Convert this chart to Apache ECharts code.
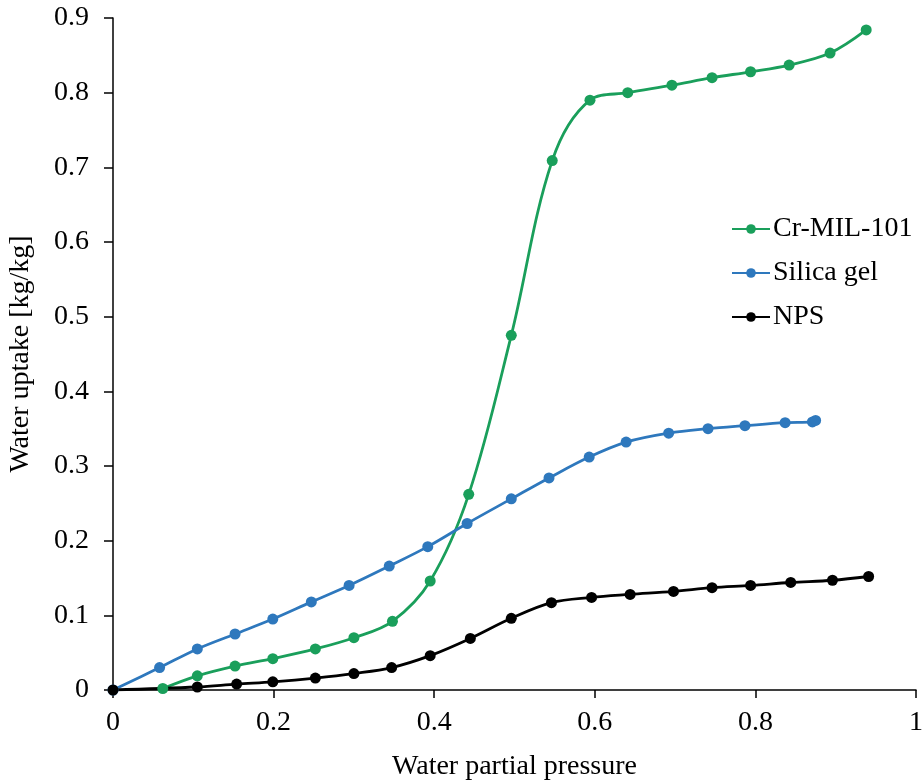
<!DOCTYPE html>
<html>
<head>
<meta charset="utf-8">
<script src="https://cdn.jsdelivr.net/npm/echarts@6/dist/echarts.min.js"></script>
<style>html,body{margin:0;padding:0;background:#fff}#c{width:923px;height:784px}</style>
</head>
<body>
<div id="c"></div>
<script>
var seriesNames = ['Cr-MIL-101', 'Silica gel', 'NPS'];
var crMil101 = [
  [0.062, 0.002], [0.105, 0.019], [0.152, 0.032], [0.199, 0.042], [0.252, 0.055],
  [0.300, 0.070], [0.348, 0.092], [0.395, 0.146], [0.443, 0.262], [0.496, 0.475],
  [0.547, 0.709], [0.594, 0.790], [0.641, 0.800], [0.696, 0.810], [0.746, 0.820],
  [0.794, 0.828], [0.842, 0.837], [0.893, 0.853], [0.938, 0.884]
];
var silicaGel = [
  [0, 0], [0.058, 0.030], [0.105, 0.055], [0.152, 0.075], [0.199, 0.095],
  [0.247, 0.118], [0.294, 0.140], [0.344, 0.166], [0.392, 0.192], [0.441, 0.223],
  [0.496, 0.256], [0.543, 0.284], [0.593, 0.312], [0.639, 0.332], [0.692, 0.344],
  [0.741, 0.350], [0.787, 0.354], [0.837, 0.358], [0.871, 0.359], [0.875, 0.361]
];
var nps = [
  [0, 0], [0.105, 0.004], [0.154, 0.008], [0.199, 0.011], [0.252, 0.016],
  [0.300, 0.022], [0.347, 0.030], [0.395, 0.046], [0.445, 0.069], [0.496, 0.096],
  [0.546, 0.117], [0.596, 0.124], [0.644, 0.128], [0.698, 0.132], [0.746, 0.137],
  [0.794, 0.140], [0.844, 0.144], [0.896, 0.147], [0.941, 0.152]
];
var xTicks = [0, 0.2, 0.4, 0.6, 0.8, 1];
var yTicks = [0, 0.1, 0.2, 0.3, 0.4, 0.5, 0.6, 0.7, 0.8, 0.9];
var colors = ['#1a9f5b', '#2e78bd', '#000000'];

var font = '"Liberation Serif", "Times New Roman", serif';
var chart = echarts.init(document.getElementById('c'), null, {renderer: 'canvas'});
function mk(name, data, color) {
  return {
    name: name, type: 'line', data: data, smooth: 0.35,
    symbol: 'circle', symbolSize: 11,
    lineStyle: {color: color, width: 2.8},
    itemStyle: {color: color},
    emphasis: {disabled: true}
  };
}
chart.setOption({
  animation: false,
  textStyle: {fontFamily: font},
  grid: {left: 113, right: 7, top: 18, bottom: 94, containLabel: false, outerBoundsMode: 'none'},
  legend: {
    orient: 'vertical', left: 726, top: 210,
    itemWidth: 38, itemHeight: 12, itemGap: 16,
    textStyle: {fontFamily: font, fontSize: 28, color: '#000', padding: [0, 0, 0, -2]},
    data: seriesNames
  },
  xAxis: {
    type: 'value', min: xTicks[0], max: xTicks[xTicks.length - 1], interval: 0.2,
    name: 'Water partial pressure', nameLocation: 'middle', nameGap: 63,
    nameTextStyle: {fontFamily: font, fontSize: 28, color: '#000'},
    axisLine: {lineStyle: {color: '#000', width: 1.5}},
    axisTick: {show: true, inside: false, length: 8, lineStyle: {color: '#000', width: 1.5}},
    axisLabel: {fontFamily: font, fontSize: 28, color: '#000', margin: 19,
      formatter: function (v) { return String(+v.toFixed(1)); }},
    splitLine: {show: false}
  },
  yAxis: {
    type: 'value', min: yTicks[0], max: yTicks[yTicks.length - 1], interval: 0.1,
    name: 'Water uptake [kg/kg]', nameLocation: 'middle', nameGap: 78, nameRotate: 90,
    nameTextStyle: {fontFamily: font, fontSize: 28, color: '#000'},
    axisLine: {show: true, lineStyle: {color: '#000', width: 1.5}},
    axisTick: {show: true, inside: false, length: 9, lineStyle: {color: '#000', width: 1.5}},
    axisLabel: {fontFamily: font, fontSize: 28, color: '#000', margin: 24,
      formatter: function (v) { return String(+v.toFixed(1)); }},
    splitLine: {show: false}
  },
  series: [
    mk(seriesNames[0], crMil101, colors[0]),
    mk(seriesNames[1], silicaGel, colors[1]),
    mk(seriesNames[2], nps, colors[2])
  ]
});
</script>
</body>
</html>
